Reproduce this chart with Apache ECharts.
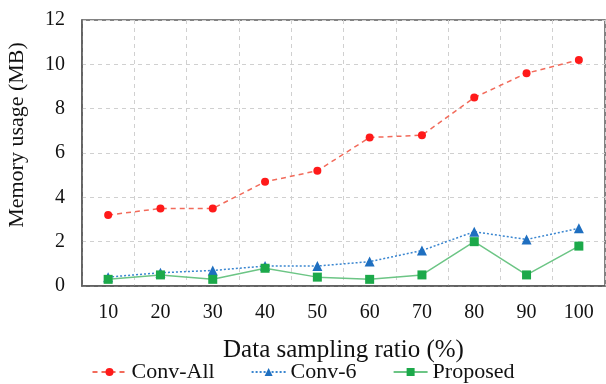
<!DOCTYPE html>
<html>
<head>
<meta charset="utf-8">
<script src="https://cdn.jsdelivr.net/npm/echarts@6/dist/echarts.min.js"></script>
<style>
    html, body { margin: 0; padding: 0; background: #fff; }
    #chart { width: 606px; height: 384px; }
</style>
</head>
<body>
<div id="chart"></div>
<script>
    // data
    const ratios = ['10', '20', '30', '40', '50', '60', '70', '80', '90', '100'];
    const convAll = [3.2, 3.5, 3.5, 4.7, 5.2, 6.7, 6.8, 8.5, 9.6, 10.2];
    const conv6 = [0.4, 0.6, 0.7, 0.9, 0.9, 1.1, 1.6, 2.45, 2.1, 2.6];
    const proposed = [0.3, 0.5, 0.3, 0.8, 0.4, 0.3, 0.5, 2.0, 0.5, 1.8];

    const font = '"Liberation Serif", "DejaVu Serif", serif';
    const chart = echarts.init(document.getElementById('chart'));

    const option = {
        animation: false,
        textStyle: { fontFamily: font },
        grid: {
            left: 82, right: 1, top: 20, bottom: 98,
            containLabel: false,
            outerBoundsMode: 'none',
            show: true,
            borderColor: '#5a5a5a',
            borderWidth: 1.5
        },
        legend: {
            bottom: -4,
            left: 'center',
            itemWidth: 34,
            itemHeight: 10,
            itemGap: 36,
            textStyle: { fontFamily: font, fontSize: 22, color: '#111' },
            data: ['Conv-All', 'Conv-6', 'Proposed']
        },
        xAxis: {
            type: 'category',
            data: ratios,
            boundaryGap: true,
            name: 'Data sampling ratio (%)',
            nameLocation: 'middle',
            nameGap: 52,
            nameTextStyle: { fontFamily: font, fontSize: 25, color: '#111' },
            axisLine: { show: true, lineStyle: { color: '#5a5a5a', width: 1.5 } },
            axisTick: { show: false },
            axisLabel: { fontFamily: font, fontSize: 20, color: '#111', margin: 17 },
            splitLine: { show: true, lineStyle: { color: '#d0d0d0', type: [4, 4] } }
        },
        yAxis: {
            type: 'value',
            min: 0,
            max: 12,
            interval: 2,
            name: 'Memory usage (MB)',
            nameLocation: 'middle',
            nameGap: 54,
            nameTextStyle: { fontFamily: font, fontSize: 22, color: '#111', padding: [0, 0, 0, 36] },
            axisLine: { show: true, lineStyle: { color: '#5a5a5a', width: 1.5 } },
            axisTick: { show: false },
            axisLabel: { fontFamily: font, fontSize: 20, color: '#111', margin: 17 },
            splitLine: { show: true, lineStyle: { color: '#d0d0d0', type: [4, 4] } }
        },
        series: [
            {
                name: 'Conv-All',
                type: 'line',
                data: convAll,
                symbol: 'circle',
                symbolSize: 8,
                itemStyle: { color: '#ff1a1a' },
                lineStyle: { color: '#f26b5b', width: 1.5, type: [5, 4] }
            },
            {
                name: 'Conv-6',
                type: 'line',
                data: conv6,
                symbol: 'triangle',
                symbolSize: 10,
                itemStyle: { color: '#1f6fc0' },
                lineStyle: { color: '#3a86d0', width: 1.5, type: [2, 2] }
            },
            {
                name: 'Proposed',
                type: 'line',
                data: proposed,
                symbol: 'rect',
                symbolSize: 9,
                itemStyle: { color: '#1ca94a' },
                lineStyle: { color: '#6cc585', width: 1.5 }
            }
        ]
    };

    option && chart.setOption(option);
</script>
</body>
</html>
